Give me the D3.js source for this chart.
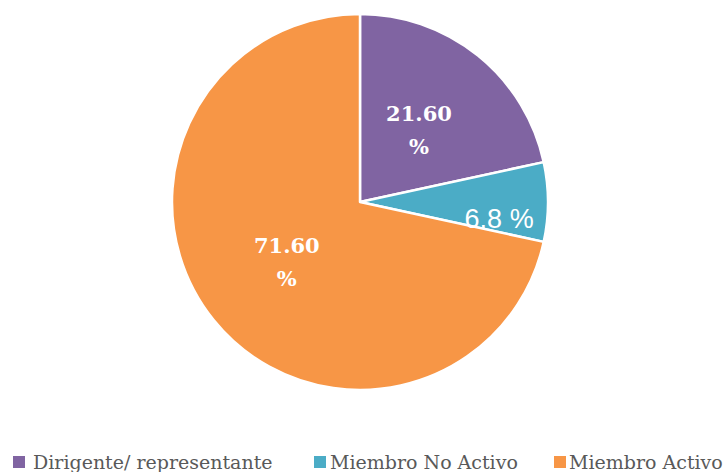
<!DOCTYPE html>
<html><head><meta charset="utf-8">
<script src="https://cdn.jsdelivr.net/npm/d3@7"></script>
<style>body{margin:0;background:#fff}</style>
</head><body>
<script>
const categories = ["Dirigente/ representante", "Miembro No Activo", "Miembro Activo"];
const values = [21.6, 6.8, 71.6];
const labels = [["21.60", "%"], ["6.8 %"], ["71.60", "%"]];
const colors = ["#8064A2", "#4BACC6", "#F79646"];

const W = 726, H = 472, cx = 360, cy = 202, R = 188;
const svg = d3.select("body").append("svg").attr("width", W).attr("height", H);
const g = svg.append("g").attr("transform", `translate(${cx},${cy})`);
const pie = d3.pie().sort(null).value(d => d)(values);
const arc = d3.arc().innerRadius(0).outerRadius(R);
g.selectAll("path").data(pie).join("path")
  .attr("d", arc).attr("fill", (d, i) => colors[i])
  .attr("stroke", "#fff").attr("stroke-width", 2.5).attr("stroke-linejoin", "round");

const labelArc = d3.arc().innerRadius(R * 0.5).outerRadius(R * 0.5);
const tealArc = d3.arc().innerRadius(R * 0.74).outerRadius(R * 0.74);
pie.forEach((d, i) => {
  if (i === 1) {
    const [x, y] = tealArc.centroid(d);
    g.append("text").attr("x", x).attr("y", y + 26)
      .attr("text-anchor", "middle").attr("fill", "#fff")
      .style("font-family", "'Liberation Sans', Arial, sans-serif").style("font-size", "27px")
      .text(labels[i][0]);
  } else {
    const [x, y] = labelArc.centroid(d);
    const t = g.append("text").attr("text-anchor", "middle").attr("fill", "#fff")
      .style("font-family", "'DejaVu Serif', serif").style("font-weight", "bold").style("font-size", "21px");
    labels[i].forEach((s, k) => {
      t.append("tspan").attr("x", x).attr("y", y - 8 + k * 33).text(s);
    });
  }
});

const squareX = [13, 314, 554];
const textX = [33, 330, 569];
const lg = svg.append("g");
categories.forEach((c, i) => {
  lg.append("rect").attr("x", squareX[i]).attr("y", 456).attr("width", 12).attr("height", 12).attr("fill", colors[i]);
  lg.append("text").attr("x", textX[i]).attr("y", 469)
    .attr("fill", "#595959")
    .style("font-family", "'DejaVu Serif', serif").style("font-size", "19px")
    .text(c);
});
</script>
</body></html>
